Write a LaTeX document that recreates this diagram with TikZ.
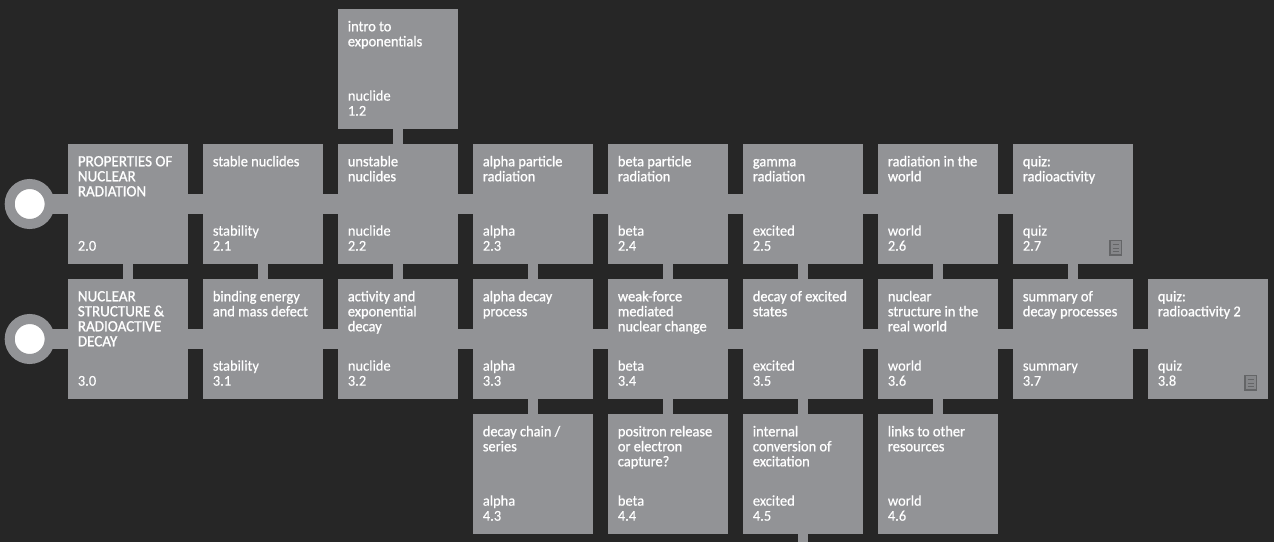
\documentclass[tikz,border=0pt]{standalone}
\usepackage{fontspec}
\setmainfont{Carlito}
\newfontfamily\ttlfont[FakeBold=1.0,FakeStretch=0.965]{Carlito}
\newfontfamily\tagfont[FakeBold=0.2,FakeStretch=0.97]{Carlito}
\definecolor{bgc}{HTML}{262626}
\definecolor{boxc}{HTML}{929396}
\definecolor{iconc}{HTML}{646567}
\newcommand{\capsize}{\fontsize{11.7pt}{11.25pt}\selectfont}
\tikzset{
 card/.style={fill=boxc,draw=none,minimum width=90pt,minimum height=90pt,inner sep=0pt,outer sep=0pt,anchor=north west},
 hub/.style={circle,fill=white,draw=boxc,line width=7.5pt,minimum size=30pt,inner sep=0pt,outer sep=0pt},
 hlink/.style={draw=boxc,line width=15pt},
 vlink/.style={draw=boxc,line width=7.5pt},
 ttl/.style={text=white,anchor=north west,inner sep=0pt,align=left,font=\ttlfont\fontsize{11.2pt}{11.25pt}\selectfont},
 tagt/.style={text=white,anchor=base west,inner sep=0pt,font=\tagfont\fontsize{11.2pt}{11.25pt}\selectfont},
 doc/.style={draw=iconc,line width=1.3pt,fill=boxc!92!black}
}
\newcommand{\cardbox}[3]{\node[card] (#1) at (#2,#3) {};}
\newcommand{\cardtext}[5]{%
 \node[ttl] (#1t) at ([xshift=7.2pt,yshift=-7.5pt]#1.north west) {\rule{0pt}{9pt}#2};
 \node[tagt] (#1a) at ([xshift=7.2pt,yshift=21.25pt]#1.south west) {#3};
 \node[tagt] (#1n) at ([xshift=7.2pt,yshift=10pt]#1.south west) {#4};
}
\newcommand{\docicon}[1]{%
 \draw[doc] ([xshift=-17pt,yshift=6.7pt]#1.south east) rectangle ([xshift=-8.7pt,yshift=17.6pt]#1.south east);
 \foreach \yy in {9.2,12.1,15}
  \draw[iconc,line width=0.5pt] ([xshift=-15.2pt,yshift=\yy pt]#1.south east) -- ([xshift=-10.5pt,yshift=\yy pt]#1.south east);
}
\begin{document}
\begin{tikzpicture}[x=0.75pt,y=-0.75pt]
\useasboundingbox (0,0) rectangle (1274,542);
\fill[bgc] (0,0) rectangle (1274,542);
\node[hub] (h2) at (29.7,204) {};
\node[hub] (h3) at (29.7,339) {};
\cardbox{a12}{338}{9}
\cardbox{a20}{68}{144}\cardbox{a21}{203}{144}\cardbox{a22}{338}{144}\cardbox{a23}{473}{144}
\cardbox{a24}{608}{144}\cardbox{a25}{743}{144}\cardbox{a26}{878}{144}\cardbox{a27}{1013}{144}
\cardbox{a30}{68}{279}\cardbox{a31}{203}{279}\cardbox{a32}{338}{279}\cardbox{a33}{473}{279}
\cardbox{a34}{608}{279}\cardbox{a35}{743}{279}\cardbox{a36}{878}{279}\cardbox{a37}{1013}{279}\cardbox{a38}{1148}{279}
\cardbox{a43}{473}{414}\cardbox{a44}{608}{414}\cardbox{a45}{743}{414}\cardbox{a46}{878}{414}
\coordinate (tail) at (803,542);
\draw[hlink] (h2.east) -- (a20.center);
\draw[hlink] (h3.east) -- (a30.center);
\foreach \p/\q in {a20/a21,a21/a22,a22/a23,a23/a24,a24/a25,a25/a26,a26/a27,
 a30/a31,a31/a32,a32/a33,a33/a34,a34/a35,a35/a36,a36/a37,a37/a38}
 \draw[hlink] (\p.center) -- (\q.center);
\foreach \p/\q in {a12/a22,a20/a30,a21/a31,a22/a32,a23/a33,a24/a34,a25/a35,a26/a36,a27/a37,
 a33/a43,a34/a44,a35/a45,a36/a46}
 \draw[vlink] (\p.south) -- (\q.north);
\draw[vlink] (a45.south) -- (tail);
\cardtext{a12}{intro to\\exponentials}{nuclide}{1.2}{}
\cardtext{a20}{\capsize PROPERTIES OF\\\capsize NUCLEAR\\\capsize RADIATION}{}{2.0}{}
\cardtext{a21}{stable nuclides}{stability}{2.1}{}
\cardtext{a22}{unstable\\nuclides}{nuclide}{2.2}{}
\cardtext{a23}{alpha particle\\radiation}{alpha}{2.3}{}
\cardtext{a24}{beta particle\\radiation}{beta}{2.4}{}
\cardtext{a25}{gamma\\radiation}{excited}{2.5}{}
\cardtext{a26}{radiation in the\\world}{world}{2.6}{}
\cardtext{a27}{quiz:\\radioactivity}{quiz}{2.7}{}
\cardtext{a30}{\capsize NUCLEAR\\\capsize STRUCTURE \&\\\capsize RADIOACTIVE\\\capsize DECAY}{}{3.0}{}
\cardtext{a31}{binding energy\\and mass defect}{stability}{3.1}{}
\cardtext{a32}{activity and\\exponential\\decay}{nuclide}{3.2}{}
\cardtext{a33}{alpha decay\\process}{alpha}{3.3}{}
\cardtext{a34}{weak-force\\mediated\\nuclear change}{beta}{3.4}{}
\cardtext{a35}{decay of excited\\states}{excited}{3.5}{}
\cardtext{a36}{nuclear\\structure in the\\real world}{world}{3.6}{}
\cardtext{a37}{summary of\\decay processes}{summary}{3.7}{}
\cardtext{a38}{quiz:\\radioactivity 2}{quiz}{3.8}{}
\cardtext{a43}{decay chain /\\series}{alpha}{4.3}{}
\cardtext{a44}{positron release\\or electron\\capture?}{beta}{4.4}{}
\cardtext{a45}{internal\\conversion of\\excitation}{excited}{4.5}{}
\cardtext{a46}{links to other\\resources}{world}{4.6}{}
\docicon{a27}
\docicon{a38}
\end{tikzpicture}
\end{document}
